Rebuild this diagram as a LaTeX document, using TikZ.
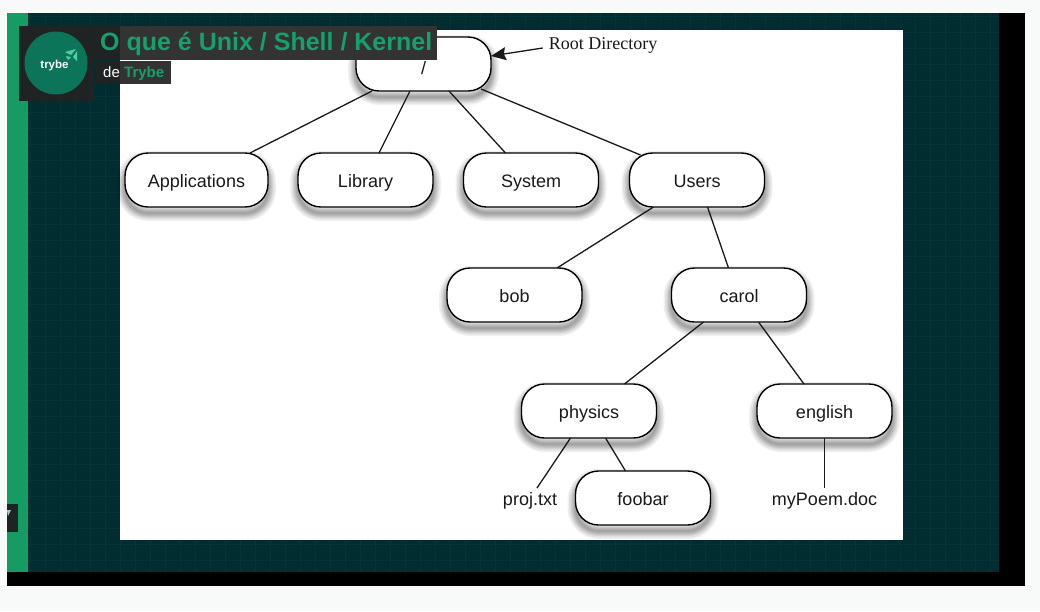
\documentclass[tikz,border=0pt]{standalone}
\usepackage{fontspec}
\setmainfont{Liberation Sans}
\newfontfamily\serifface{Liberation Serif}
\usetikzlibrary{positioning, calc, arrows.meta}

\definecolor{pagegrey}{HTML}{F8F9F9}
\definecolor{slidedark}{HTML}{012D30}
\definecolor{gridteal}{HTML}{063436}
\definecolor{trybegreen}{HTML}{159C62}
\definecolor{titlegreen}{HTML}{16A06C}
\definecolor{logogreen}{HTML}{0C7559}
\definecolor{glyphgreen}{HTML}{4FCFA0}
\definecolor{barlight}{HTML}{333333}
\definecolor{bardark}{HTML}{1F2323}

\begin{document}
\begin{tikzpicture}
    [x=1pt, y=-1pt,
    softlayer/.style={preaction={draw=black, draw opacity=0.06, fill=none, line width=#1, transform canvas={yshift=-6pt}}},
    dirnode/.style={rectangle, draw=black, fill=white, line width=1.4pt, rounded corners=23pt,
        minimum width=135pt, minimum height=54pt, inner sep=0pt, outer sep=0pt,
        font=\fontsize{18}{20}\selectfont, text=black!90, text height=17pt, text depth=3pt,
        softlayer=16pt, softlayer=13pt, softlayer=10pt, softlayer=8pt, softlayer=6pt, softlayer=4pt, softlayer=2pt},
    filenode/.style={inner sep=0pt, outer sep=0pt, font=\fontsize{18}{20}\selectfont, text=black!90,
        text height=17pt, text depth=3pt},
    link/.style={line width=1.3pt, black!90},]

    \useasboundingbox (0,0) rectangle (1040,611);

    %Slide
    \fill[pagegrey] (0,0) rectangle (1040,611);
    \fill[black] (7,13) rectangle (1025,586);
    \fill[slidedark] (7,13) rectangle (999,572);
    \draw[gridteal, line width=0.5pt, xstep=15pt, ystep=16pt] (28,13) grid (999,572);
    \fill[trybegreen] (7,13) rectangle (28,572);
    \fill[bardark] (7,504) rectangle (18,532);
    \fill[white!60!teal] (7,510) -- (11,510) -- (8,516) -- cycle;
    \fill[white] (120,30) rectangle (903,540);

    %Nodes
    \node[dirnode, text height=20pt, text depth=0pt](root) at (423.5,64){/};
    \node[dirnode, minimum width=143pt](Applications) at (196.5,180){Applications};
    \node[dirnode](Library)[right=30pt of Applications]{Library};
    \node[dirnode](System)[right=30.5pt of Library]{System};
    \node[dirnode](Users)[right=31pt of System]{Users};

    \node[dirnode](bob)[below left=61pt and 47.5pt of Users]{bob};
    \node[dirnode](carol)[below=61pt of Users, xshift=42pt]{carol};
    \node[dirnode](physics)[below=62pt of carol, xshift=-150pt]{physics};
    \node[dirnode](english)[below=62pt of carol, xshift=85.5pt]{english};
    \node[dirnode](foobar)[below=33pt of physics, xshift=54pt]{foobar};

    \node[filenode](proj)[below=50pt of physics, xshift=-59pt]{proj.txt};
    \node[filenode](myPoem)[below=50pt of english]{myPoem.doc};
    \node[inner sep=6pt, outer sep=0pt, font=\serifface\fontsize{18}{20}\selectfont, text=black!90](rootdir) at (603,45){Root Directory};

    %Lines
    \draw[link]([xshift=16pt]root.south west)--([xshift=125pt]Applications.north west);
    \draw[link]([xshift=54pt]root.south west)--([xshift=81pt]Library.north west);
    \draw[link]([xshift=93pt]root.south west)--([xshift=42pt]System.north west);
    \draw[link]([xshift=125pt, yshift=2pt]root.south west)--([xshift=11pt, yshift=-2pt]Users.north west);

    \draw[link]([xshift=24pt]Users.south west)--([xshift=110pt]bob.north west);
    \draw[link]([xshift=78pt]Users.south west)--([xshift=57pt]carol.north west);

    \draw[link]([xshift=32pt]carol.south west)--([xshift=103pt]physics.north west);
    \draw[link]([xshift=87pt]carol.south west)--([xshift=47pt]english.north west);

    \draw[link]([xshift=49pt]physics.south west)--([xshift=7pt]proj.north);
    \draw[link]([xshift=84pt]physics.south west)--([xshift=50pt]foobar.north west);
    \draw[link](english.south)--(myPoem.north);

    \draw[link, -{Stealth[length=15pt, width=13pt, inset=2pt]}]([yshift=-3pt]rootdir.west)--([yshift=8pt]root.east);

    %Video title overlay
    \fill[bardark] (19,26) rectangle (94,101);
    \fill[bardark] (94,26) rectangle (120,60);
    \fill[bardark] (96,61) rectangle (120,84);
    \fill[barlight] (120,26) rectangle (437,60);
    \fill[barlight] (120,61) rectangle (171,84);
    \fill[logogreen] (56,63) circle (31.5);
    \fill[glyphgreen] (65,52) -- (76,49) -- (71,55) -- cycle;
    \fill[glyphgreen] (73,57) -- (77,51) -- (77,61) -- cycle;
    \fill[glyphgreen] (66,56) -- (71,57) -- (68,60) -- cycle;
    \node[white, font=\bfseries\fontsize{11.5}{12}\selectfont, inner sep=0pt](logo) at (54.5,66){trybe};
    \node[titlegreen, anchor=base west, font=\bfseries\fontsize{25}{28}\selectfont, inner sep=0pt](title) at (100,50){O que é Unix / Shell / Kernel};
    \node[white, anchor=base west, font=\fontsize{15}{17}\selectfont, inner sep=0pt](byline) at (103,77){de};
    \node[titlegreen, anchor=base west, font=\bfseries\fontsize{15}{17}\selectfont, inner sep=0pt](channel) at (124,77){Trybe};
\end{tikzpicture}
\end{document}
